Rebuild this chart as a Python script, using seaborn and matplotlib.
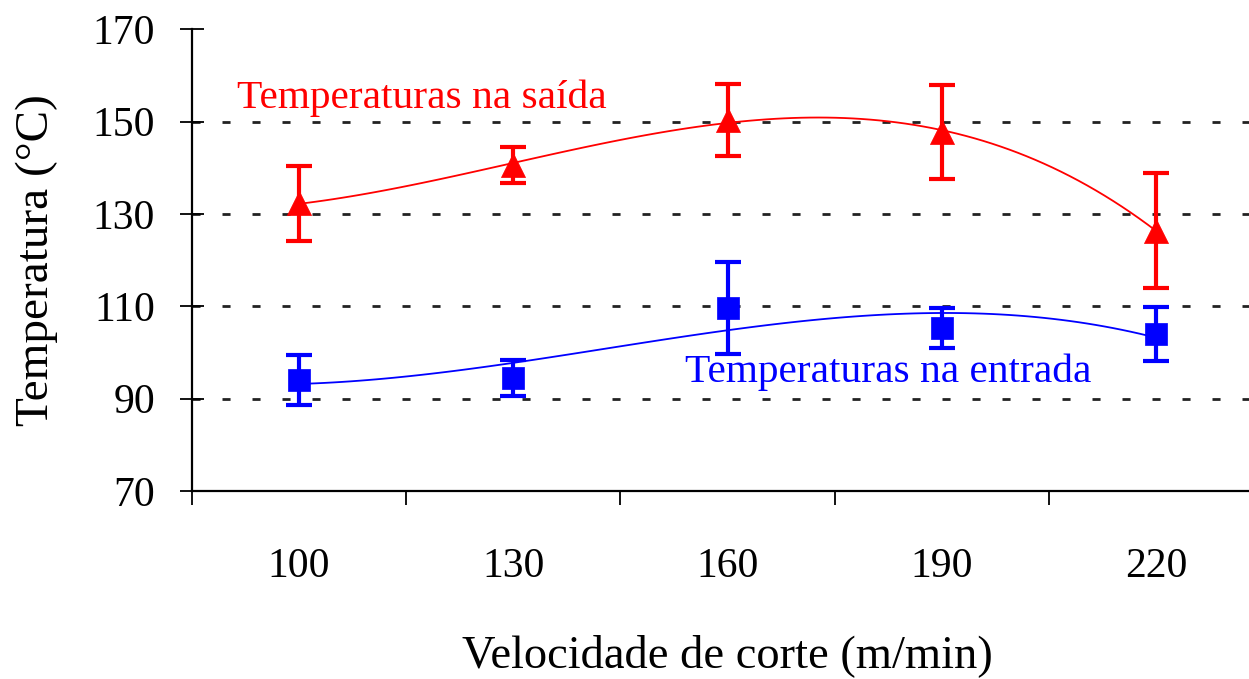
import numpy as np
import matplotlib
matplotlib.use("Agg")
import matplotlib.pyplot as plt
import seaborn as sns

# ---- data ----
velocidade = ["100", "130", "160", "190", "220"]
temp_saida = [132.3, 140.6, 150.4, 147.7, 126.4]
err_saida = [8.2, 3.8, 7.8, 10.2, 12.5]
temp_entrada = [94.0, 94.5, 109.7, 105.3, 104.0]
err_entrada = [5.4, 3.9, 10.0, 4.3, 5.8]
y_ticks = [70, 90, 110, 130, 150, 170]

sns.set_theme(style="white")
plt.rcParams['font.family'] = ['Liberation Serif', 'DejaVu Serif']

W, H = 1249, 679
fig = plt.figure(figsize=(W / 100, H / 100), dpi=100)
ax_left, ax_right, ax_top, ax_bot = 191.6, 1263.6, 29.3, 491.0
ax = fig.add_axes([ax_left / W, 1 - ax_bot / H, (ax_right - ax_left) / W, (ax_bot - ax_top) / H])

pos = np.arange(len(velocidade))

series = [
    (temp_saida, err_saida, '#ff0000', '^', 300),
    (temp_entrada, err_entrada, '#0000ff', 's', 260),
]
for vals, errs, color, marker, size in series:
    sns.regplot(x=pos.astype(float), y=np.array(vals), order=3, ci=None, scatter=False,
                color=color, line_kws=dict(lw=1.3, zorder=3), ax=ax, truncate=True)
    ax.errorbar(pos, vals, yerr=errs, fmt='none', ecolor=color, elinewidth=3.0,
                capsize=9.5, capthick=3.0, zorder=4)
    sns.scatterplot(x=pos, y=vals, marker=marker, s=size, color=color, edgecolor=color,
                    linewidth=0.5, ax=ax, zorder=5, legend=False)

ax.set_xlim(-0.5, 4.5)
ax.set_ylim(70, 170)
ax.set_yticks(y_ticks)
ax.set_xticks(pos)
ax.set_xticklabels(velocidade)
ax.set_xticks(np.arange(-0.5, 5.0, 1.0), minor=True)

# grid: dotted horizontal lines (not at the bottom/top)
ax.yaxis.grid(True, color='#222222', lw=2.0, dashes=(2.9, 7.9))
ax.xaxis.grid(False)
gl = ax.get_ygridlines()
gl[0].set_visible(False)
gl[-1].set_visible(False)
ax.set_axisbelow(True)

for s in ['top', 'right']:
    ax.spines[s].set_visible(False)
for s in ['left', 'bottom']:
    ax.spines[s].set_color('black')
    ax.spines[s].set_linewidth(1.6)

ax.tick_params(axis='x', which='major', bottom=True, length=0, pad=41, labelsize=30,
               labelcolor='black')
ax.tick_params(axis='x', which='minor', bottom=True, length=10, width=1.3,
               direction='out', color='black')
ax.tick_params(axis='y', which='major', left=True, length=17, width=1.3, direction='inout',
               color='black', labelsize=30, pad=17.8, labelcolor='black')

ax.set_xlabel("Velocidade de corte (m/min)", fontsize=33.5, color='black')
ax.xaxis.set_label_coords(0.5, -(634 - ax_bot) / (ax_bot - ax_top))
ax.set_ylabel("Temperatura (°C)", fontsize=34, color='black')
ax.yaxis.set_label_coords((58 - ax_left) / (ax_right - ax_left), 0.5)

ax.text(-0.288, 153.0, "Temperaturas na saída", color='#ff0000', fontsize=29.8,
        ha='left', va='baseline')
ax.text(1.801, 93.67, "Temperaturas na entrada", color='#0000ff', fontsize=29.8,
        ha='left', va='baseline')

fig.savefig("out.png", dpi=100)
